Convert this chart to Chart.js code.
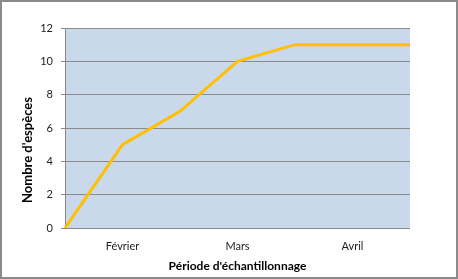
<!DOCTYPE html>
<html>
<head>
<meta charset="utf-8">
<script src="https://cdn.jsdelivr.net/npm/chart.js@4"></script>
<style>
html, body { margin: 0; padding: 0; background: #fff; }
#wrap { width: 458px; height: 279px; box-sizing: border-box; border: 2px solid #8a8a8a; }
canvas { display: block; }
</style>
</head>
<body>
<div id="wrap"><canvas id="chart" width="454" height="275" style="width:454px;height:275px"></canvas></div>
<script>
// Données
const periodes = ['', 'Février', '', 'Mars', '', 'Avril', ''];
const especes = [0, 5, 7, 10, 11, 11, 11];
const yMin = 0;
const yMax = 12;
const yStep = 2;
const titreY = "Nombre d'espèces";

// fond bleu de la zone de tracé
Chart.register({
    id: 'fondZone',
    beforeDraw(chart) {
        const { ctx, chartArea: a } = chart;
        ctx.save();
        ctx.fillStyle = '#c9d8eb';
        ctx.fillRect(a.left, a.top, a.right - a.left, a.bottom - a.top);
        ctx.restore();
    }
});

// titre de l'axe Y, un peu plus bas que le centre comme dans Excel
Chart.register({
    id: 'titreAxeY',
    afterDraw(chart) {
        const { ctx, chartArea: a } = chart;
        ctx.save();
        ctx.translate(25.5, a.top + (a.bottom - a.top) / 2 + 22);
        ctx.rotate(-Math.PI / 2);
        ctx.fillStyle = '#000';
        ctx.font = 'bold 13px Lato';
        ctx.textAlign = 'center';
        ctx.textBaseline = 'middle';
        ctx.fillText(titreY, 0, 0);
        ctx.restore();
    }
});

const ctx = document.getElementById('chart').getContext('2d');
new Chart(ctx, {
    type: 'line',
    data: {
        labels: periodes,
        datasets: [{
            data: especes,
            borderColor: '#ffc000',
            borderWidth: 3,
            pointRadius: 0,
            tension: 0,
            fill: false
        }]
    },
    options: {
        responsive: false,
        animation: false,
        layout: { padding: { left: 0, top: 26, right: 46, bottom: 0 } },
        plugins: { legend: { display: false }, tooltip: { enabled: false } },
        scales: {
            x: {
                offset: false,
                grid: { display: false },
                border: { display: false },
                ticks: {
                    autoSkip: false,
                    maxRotation: 0,
                    padding: 4,
                    color: '#222',
                    font: { family: 'Lato', size: 11 }
                },
                title: {
                    display: true,
                    text: "Période d'échantillonnage",
                    color: '#000',
                    font: { family: 'Lato', size: 12, weight: 'bold' },
                    padding: { top: 0, bottom: 4 }
                },
                afterFit(scale) { scale.height = 49; }
            },
            y: {
                min: yMin,
                max: yMax,
                ticks: {
                    stepSize: yStep,
                    padding: 8,
                    color: '#222',
                    font: { family: 'Lato', size: 11 }
                },
                grid: { color: '#8a8a8a', lineWidth: 1, tickLength: 4, drawTicks: true },
                border: { display: true, color: '#8a8a8a' },
                afterFit(scale) { scale.width = 63; }
            }
        }
    }
});
</script>
</body>
</html>
